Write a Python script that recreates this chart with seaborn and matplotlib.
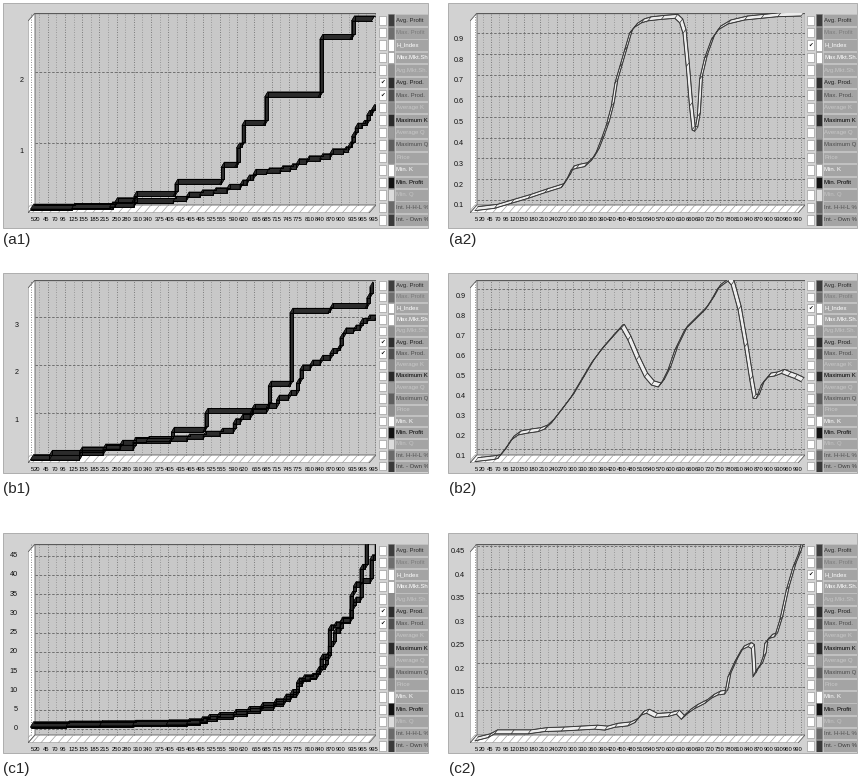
import matplotlib
matplotlib.use("Agg")
import matplotlib.pyplot as plt
from matplotlib.collections import PolyCollection
from matplotlib.patches import Rectangle, Polygon
from matplotlib.transforms import ScaledTranslation
import numpy as np
import pandas as pd
import seaborn as sns

sns.set_style("white")
plt.rcParams["font.family"] = ["Liberation Sans", "DejaVu Sans"]

# ---------------------------------------------------------------- data
# (a1) productivity: maximum and average
a1_max_t = [0, 120, 230, 244, 295, 300, 414, 419, 549, 554, 593, 598, 608, 614, 675, 680, 835, 840, 927, 932, 990]
a1_max_v = [0.07, 0.08, 0.10, 0.16, 0.17, 0.25, 0.25, 0.42, 0.42, 0.66, 0.66, 0.93, 0.95, 1.25, 1.25, 1.65, 1.65, 2.46, 2.46, 2.72, 2.72]
a1_avg_t = [0, 120, 239, 300, 414, 452, 491, 530, 569, 608, 627, 646, 685, 724, 753, 772, 801, 840, 869, 908, 922, 932, 942, 961, 976, 990, 1000]
a1_avg_v = [0.05, 0.07, 0.10, 0.15, 0.18, 0.24, 0.27, 0.30, 0.35, 0.41, 0.48, 0.56, 0.58, 0.61, 0.64, 0.71, 0.75, 0.78, 0.85, 0.88, 0.95, 1.09, 1.21, 1.25, 1.39, 1.47, 1.49]

# (b1)
b1_max_t = [0, 55, 142, 210, 259, 297, 336, 404, 409, 501, 506, 637, 642, 685, 690, 748, 753, 864, 869, 971, 976, 985]
b1_max_v = [0.03, 0.12, 0.19, 0.25, 0.33, 0.39, 0.41, 0.42, 0.60, 0.62, 0.99, 0.99, 1.08, 1.12, 1.56, 1.56, 3.08, 3.10, 3.18, 3.18, 3.39, 3.63]
b1_avg_t = [0, 142, 210, 297, 404, 453, 501, 549, 588, 608, 637, 685, 714, 748, 772, 782, 811, 840, 869, 889, 898, 908, 937, 956, 976, 1000]
b1_avg_v = [0.02, 0.12, 0.22, 0.38, 0.42, 0.46, 0.52, 0.58, 0.78, 0.87, 1.00, 1.10, 1.27, 1.37, 1.62, 1.90, 2.00, 2.10, 2.24, 2.31, 2.56, 2.67, 2.73, 2.87, 2.94, 2.97]

# (c1)
c1_max_t = [0, 104, 201, 297, 394, 453, 491, 511, 540, 588, 627, 666, 705, 734, 753, 772, 787, 811, 830, 840, 855, 864, 879, 898, 927, 937, 956, 971]
c1_max_v = [0.6, 0.8, 0.9, 1.0, 1.1, 1.4, 1.9, 2.5, 3.0, 3.8, 4.6, 5.6, 6.6, 7.8, 9.0, 12.0, 12.8, 13.2, 15.0, 18.2, 18.6, 25.8, 26.6, 27.5, 34.5, 37.0, 41.5, 47.8]
c1_avg_t = [0, 104, 201, 297, 394, 453, 491, 511, 540, 588, 627, 666, 705, 734, 753, 772, 787, 811, 830, 840, 855, 864, 879, 898, 927, 937, 956, 985, 1000]
c1_avg_v = [0.3, 0.5, 0.6, 0.7, 0.8, 1.0, 1.5, 2.0, 2.6, 3.3, 4.1, 5.0, 6.0, 7.2, 8.3, 11.2, 12.4, 12.9, 14.2, 15.5, 17.8, 21.5, 25.0, 27.8, 31.0, 33.0, 37.8, 44.0, 47.8]

# (a2) H index
a2_t = [0, 60, 111, 163, 214, 265, 285, 295, 311, 336, 357, 372, 387, 403, 418, 429, 444, 459, 474, 490,
        510, 531, 572, 613, 628, 638, 648, 658, 666, 674, 682, 689, 704, 725, 745, 776, 827, 878, 929, 1000]
a2_v = [0.049, 0.06, 0.084, 0.108, 0.135, 0.16, 0.21, 0.244, 0.252, 0.26, 0.29, 0.33, 0.39, 0.46, 0.55, 0.66, 0.74, 0.82, 0.90, 0.93,
        0.95, 0.96, 0.967, 0.972, 0.95, 0.90, 0.74, 0.55, 0.436, 0.43, 0.50, 0.68, 0.78, 0.87, 0.916, 0.945, 0.964, 0.972, 0.98, 0.983]

# (b2) H index
b2_t = [0, 60, 70, 91, 111, 132, 163, 194, 214, 234, 265, 295, 326, 357, 387, 418, 444, 449, 469, 495,
        520, 541, 562, 572, 592, 613, 643, 674, 705, 725, 745, 776, 786, 807, 827, 843, 853, 863, 878, 899,
        919, 940, 960, 980, 1000]
b2_v = [0.037, 0.048, 0.053, 0.095, 0.145, 0.17, 0.18, 0.187, 0.20, 0.23, 0.295, 0.36, 0.445, 0.53, 0.595, 0.653, 0.70, 0.703, 0.645, 0.545,
        0.46, 0.42, 0.41, 0.43, 0.495, 0.595, 0.695, 0.745, 0.795, 0.845, 0.903, 0.94, 0.92, 0.795, 0.61, 0.445, 0.353, 0.353, 0.42, 0.46,
        0.465, 0.478, 0.465, 0.453, 0.437]

# (c2) H index
c2_t = [0, 40, 60, 111, 163, 214, 265, 316, 367, 398, 429, 469, 490, 510, 526, 551, 592, 618, 633, 653,
        674, 705, 725, 745, 766, 776, 797, 817, 838, 848, 853, 863, 873, 884, 889, 904, 919, 935, 955, 976,
        991, 1000]
c2_v = [0.034, 0.041, 0.049, 0.049, 0.049, 0.054, 0.055, 0.057, 0.059, 0.057, 0.063, 0.066, 0.073, 0.089, 0.093, 0.084, 0.086, 0.091, 0.08, 0.093,
        0.103, 0.114, 0.125, 0.132, 0.134, 0.171, 0.203, 0.228, 0.235, 0.231, 0.171, 0.185, 0.192, 0.214, 0.242, 0.253, 0.256, 0.292, 0.356, 0.406,
        0.431, 0.452]

x_labels_left = ["5", "20", "45", "70", "95", "125", "155", "185", "215", "250", "280", "310", "340", "375", "405", "435", "465",
                 "495", "525", "555", "590", "620", "655", "685", "715", "745", "775", "810", "840", "870", "900", "935", "965", "995"]
x_labels_right = ["5", "20", "45", "70", "95", "120", "150", "180", "210", "240", "270", "300", "330", "360", "390", "420", "450", "480",
                  "510", "540", "570", "600", "630", "660", "690", "720", "750", "780", "810", "840", "870", "900", "930", "960", "990"]

legend_names = ["Avg. Profit", "Max. Profit", "H_Index", "Max.Mkt.Sh.", "Avg.Mkt.Sh.", "Avg. Prod.", "Max. Prod.",
                "Average K", "Maximum K", "Average Q", "Maximum Q", "Price", "Min. K", "Min. Profit", "Min. Q",
                "Int. H-H-L %", "Int. - Own %"]
swatch_colors = ["#3d3d3d", "#6e6e6e", "#ffffff", "#ffffff", "#8c8c8c", "#2e2e2e", "#4f4f4f", "#8a8a8a", "#2a2a2a",
                 "#9a9a9a", "#5e5e5e", "#8e8e8e", "#ffffff", "#111111", "#dcdcdc", "#6a6a6a", "#3a3a3a"]
legend_text_colors = ["#2c2c2c", "#7c7c7c", "#ffffff", "#ffffff", "#c4c4c4", "#1e1e1e", "#4c4c4c", "#c8c8c8", "#000000",
                      "#c8c8c8", "#4c4c4c", "#c8c8c8", "#ffffff", "#000000", "#c4c4c4", "#505050", "#3c3c3c"]

# ---------------------------------------------------------------- layout
FIG_W, FIG_H = 858, 780
fig = plt.figure(figsize=(FIG_W / 100, FIG_H / 100), dpi=100)
fig.patch.set_facecolor("white")

PANEL_BG = "#d2d2d2"
PLOT_BG = "#c8c8c8"
FRAME = "#5a5a5a"
DX, DY = 7, 8          # depth of the 3-D wall and floor, pixels

COLS = [
    dict(box=(3, 428), ax=(28, 376), leg=(378, 428), t_px=(30.5, 375), labels=x_labels_left, lab_x=3),
    dict(box=(448, 857), ax=(470, 805), leg=(806, 857), t_px=(475, 801), labels=x_labels_right, lab_x=449),
]
ROWS = [
    dict(box=(3, 228), ax=(13, 213), leg=(14, 226), lab_y=240),
    dict(box=(273, 473), ax=(280, 463), leg=(280, 472), lab_y=489),
    dict(box=(533, 753), ax=(544, 743), leg=(544, 752), lab_y=769),
]


def frac(x0, y0, x1, y1):
    return [x0 / FIG_W, 1 - y1 / FIG_H, (x1 - x0) / FIG_W, (y1 - y0) / FIG_H]


def ribbon(ax, t, v, ppt, ppv, face, edge, stairs, depth):
    t = np.asarray(t, float)
    v = np.asarray(v, float)
    if stairs:
        t = np.repeat(t, 2)[1:]
        v = np.repeat(v, 2)[:-1]
    dt, dv = depth[0] / ppt, depth[1] / ppv
    quads = [[(t[i], v[i]), (t[i + 1], v[i + 1]), (t[i + 1] + dt, v[i + 1] + dv), (t[i] + dt, v[i] + dv)]
             for i in range(len(t) - 1)]
    ax.add_collection(PolyCollection(quads, facecolors=face, edgecolors=edge, linewidths=0.4, zorder=3))
    front = pd.DataFrame({"t": t, "v": v})
    back = pd.DataFrame({"t": t + dt, "v": v + dv})
    for df in (front, back):
        sns.lineplot(data=df, x="t", y="v", ax=ax, color=edge, linewidth=0.7,
                     sort=False, estimator=None, zorder=4)


def legend_column(col, row, checked):
    c, r = COLS[col], ROWS[row]
    lx0, lx1 = c["leg"]
    ly0, ly1 = r["leg"]
    w, h = lx1 - lx0, ly1 - ly0
    lax = fig.add_axes(frac(lx0, ly0, lx1, ly1))
    lax.set_xlim(0, w)
    lax.set_ylim(h, 0)
    lax.axis("off")
    rh = h / len(legend_names)
    for i, (name, sw, tc) in enumerate(zip(legend_names, swatch_colors, legend_text_colors)):
        y = i * rh
        lax.add_patch(Rectangle((1, y + 1.5), 6.5, rh - 3, fc="white", ec="#8c8c8c", lw=0.4))
        lax.add_patch(Rectangle((9.5, y + 0.4), 6.5, rh - 0.8, fc=sw, ec="#7c7c7c", lw=0.4))
        lax.add_patch(Rectangle((17, y + 0.4), w - 17.3, rh - 0.8, fc="#a4a4a4", ec="#c8c8c8", lw=0.4))
        lax.text(18.3, y + rh / 2, name, fontsize=4.3, color=tc, va="center", ha="left", clip_on=True)
        if i in checked:
            lax.text(4.25, y + rh / 2, "\u2714", fontsize=4, ha="center", va="center",
                     family="DejaVu Sans", color="#111111")


def panel(col, row, tag, series, ylim, yticks, ylabels, dark, checked, ypad, yshift):
    c, r = COLS[col], ROWS[row]
    bx0, bx1 = c["box"]
    by0, by1 = r["box"]
    fig.patches.append(Rectangle((bx0 / FIG_W, 1 - by1 / FIG_H), (bx1 - bx0) / FIG_W, (by1 - by0) / FIG_H,
                                 transform=fig.transFigure, fc=PANEL_BG, ec="#a4a4a4", lw=0.6, zorder=-5))
    ax = fig.add_axes(frac(c["ax"][0], r["ax"][0], c["ax"][1], r["ax"][1]))
    ax.set_zorder(1)
    ax.set_facecolor("none")
    wpx = c["ax"][1] - c["ax"][0]
    hpx = r["ax"][1] - r["ax"][0]
    ppt = (c["t_px"][1] - c["t_px"][0]) / 1000.0
    x0 = -(c["t_px"][0] - c["ax"][0]) / ppt
    x1 = x0 + wpx / ppt
    ppv = hpx / (ylim[1] - ylim[0])

    def X(p):
        return x0 + p / ppt

    def Y(p):
        return ylim[0] + p / ppv

    # back wall, left wall and floor of the 3-D box
    ax.add_patch(Polygon([(X(DX), Y(DY)), (X(wpx), Y(DY)), (X(wpx), Y(hpx)), (X(DX), Y(hpx))],
                         fc=PLOT_BG, ec="none", zorder=0))
    ax.add_patch(Polygon([(X(0), Y(0)), (X(DX), Y(DY)), (X(DX), Y(hpx)), (X(0), Y(hpx - DY))],
                         fc="white", ec=FRAME, lw=0.6, zorder=1))
    ax.add_patch(Polygon([(X(0), Y(0)), (X(wpx - DX), Y(0)), (X(wpx), Y(DY)), (X(DX), Y(DY))],
                         fc="white", ec=FRAME, lw=0.6, zorder=1))

    # grid on the back wall, with its continuation across the floor
    for g in range(0, 1001, 25):
        major = g % 50 == 0
        ax.plot([g, g], [Y(DY), Y(hpx)], color="#626262" if major else "#8a8a8a",
                lw=0.6, ls=(0, (1, 2)), zorder=1)
        ax.plot([X((g - x0) * ppt - DX), g], [Y(0), Y(DY)], color="#a0a0a0", lw=0.5, zorder=1.5)
    for yv in yticks:
        ax.plot([X(DX), X(wpx)], [yv, yv], color="#626262", lw=0.6, ls=(0, (3, 2)), zorder=1)
    ax.plot([X(DX), X(wpx), X(wpx)], [Y(hpx), Y(hpx), Y(DY)], color=FRAME, lw=0.9, zorder=2)

    if dark:
        face, edge, depth = "#2c2c2c", "#000000", (3, 5)
    else:
        face, edge, depth = "#ededed", "#3a3a3a", (3, 4)
    for t, v in series:
        ribbon(ax, t, v, ppt, ppv, face, edge, stairs=dark, depth=depth)

    ax.set_xlim(x0, x1)
    ax.set_ylim(*ylim)
    for s in ax.spines.values():
        s.set_visible(False)
    ax.set_xlabel("")
    ax.set_ylabel("")
    ax.set_xticks([int(s) for s in c["labels"]])
    ax.set_xticklabels(c["labels"], fontsize=4.2, color="#000000")
    ax.tick_params(axis="x", length=0, pad=3.0)
    ax.set_yticks([])
    off = ScaledTranslation(-ypad / 100, -yshift / 100, fig.dpi_scale_trans)
    for yv, lab in zip(yticks, ylabels):
        ax.text(0, yv, lab, transform=ax.get_yaxis_transform() + off, ha="right", va="center",
                fontsize=5.2, color="#111111")

    legend_column(col, row, checked)
    fig.text(c["lab_x"] / FIG_W, 1 - r["lab_y"] / FIG_H, tag, fontsize=11, va="center", ha="left")


h_ticks = [0.1, 0.2, 0.3, 0.4, 0.5, 0.6, 0.7, 0.8, 0.9]
h_labels = ["0.1", "0.2", "0.3", "0.4", "0.5", "0.6", "0.7", "0.8", "0.9"]

panel(0, 0, "(a1)", [(a1_avg_t, a1_avg_v), (a1_max_t, a1_max_v)], (0.014, 2.831),
      [1, 2], ["1", "2"], True, [5, 6], 4, 9)
panel(0, 1, "(b1)", [(b1_avg_t, b1_avg_v), (b1_max_t, b1_max_v)], (-0.042, 3.771),
      [1, 2, 3], ["1", "2", "3"], True, [5, 6], 9, 8)
panel(0, 2, "(c1)", [(c1_avg_t, c1_avg_v), (c1_max_t, c1_max_v)], (-3.64, 48.05),
      list(range(0, 50, 5)), [str(k) for k in range(0, 50, 5)], True, [5, 6], 10, 0)
panel(1, 0, "(a2)", [(a2_t, a2_v)], (0.0376, 0.9976), h_ticks, h_labels, False, [2], 6, 6)
panel(1, 1, "(b2)", [(b2_t, b2_v)], (0.03, 0.945), h_ticks, h_labels, False, [2], 4, 7)
panel(1, 2, "(c2)", [(c2_t, c2_v)], (0.0295, 0.454),
      [0.1, 0.15, 0.2, 0.25, 0.3, 0.35, 0.4, 0.45],
      ["0.1", "0.15", "0.2", "0.25", "0.3", "0.35", "0.4", "0.45"], False, [2], 5, 6)

fig.savefig("out.png", dpi=100, facecolor="white")
